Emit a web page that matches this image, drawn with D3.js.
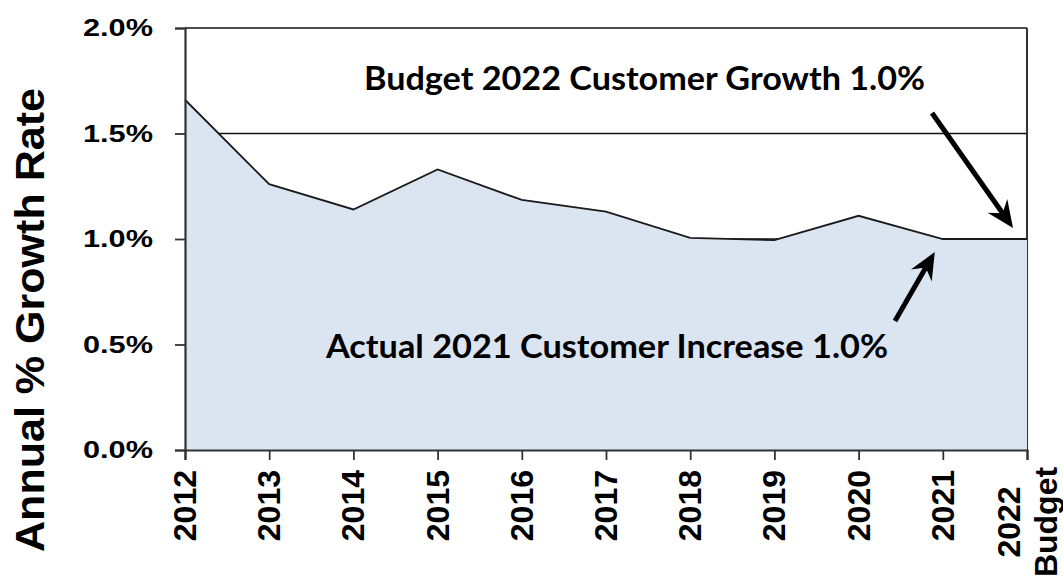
<!DOCTYPE html>
<html>
<head>
<meta charset="utf-8">
<script src="https://cdn.jsdelivr.net/npm/d3@7"></script>
<style>
  html, body { margin: 0; padding: 0; background: #ffffff; }
  svg { display: block; }
</style>
</head>
<body>
<svg id="chart" width="1063" height="579"></svg>
<script>
// Annual customer growth rate, in percent
const years = ["2012", "2013", "2014", "2015", "2016", "2017", "2018", "2019", "2020", "2021", "2022|Budget"];
const growth = [1.66, 1.26, 1.14, 1.33, 1.185, 1.13, 1.005, 0.995, 1.11, 1.0, 1.0];
const yTicks = [0, 0.5, 1.0, 1.5, 2.0];
const budgetNote = "Budget 2022 Customer Growth 1.0%";
const actualNote = "Actual 2021 Customer Increase 1.0%";
const yTitle = "Annual % Growth Rate";

const svg = d3.select("#chart");
const m = { left: 185, right: 1027, top: 28, bottom: 450 };

const x = d3.scalePoint().domain(years).range([m.left, m.right]);
const y = d3.scaleLinear().domain([0, 2]).range([m.bottom, m.top]);

const pts = years.map((k, i) => ({ k, v: growth[i] }));

// horizontal gridlines (drawn under the area)
svg.append("g").selectAll("line").data(yTicks.filter(t => t > 0)).join("line")
  .attr("x1", m.left).attr("x2", m.right)
  .attr("y1", d => y(d)).attr("y2", d => y(d))
  .attr("stroke", "#111").attr("stroke-width", 1.4);

// right frame edge
svg.append("line")
  .attr("x1", m.right).attr("x2", m.right).attr("y1", m.top).attr("y2", m.bottom)
  .attr("stroke", "#333").attr("stroke-width", 2);

// filled area
svg.append("path").datum(pts)
  .attr("d", d3.area().x(d => x(d.k)).y0(y(0)).y1(d => y(d.v)))
  .attr("fill", "#dbe4f1");

// series outline
svg.append("path").datum(pts)
  .attr("d", d3.line().x(d => x(d.k)).y(d => y(d.v)))
  .attr("fill", "none").attr("stroke", "#1a1a1a").attr("stroke-width", 1.8);

// y axis
const yAxis = svg.append("g").attr("transform", `translate(${m.left},0)`)
  .call(d3.axisLeft(y).tickValues(yTicks).tickSize(10).tickPadding(22)
    .tickFormat(d => d.toFixed(1) + "%"));
yAxis.select(".domain").attr("stroke", "#333").attr("stroke-width", 2.2);
yAxis.selectAll(".tick line").attr("stroke", "#333").attr("stroke-width", 1.8);
yAxis.selectAll(".tick text")
  .attr("fill", "#000")
  .style("font-family", "'Liberation Sans', Arial, sans-serif")
  .style("font-weight", "bold").style("font-size", "24px")
  .attr("textLength", 70).attr("lengthAdjust", "spacingAndGlyphs");

// x axis
const xAxis = svg.append("g").attr("transform", `translate(0,${m.bottom})`)
  .call(d3.axisBottom(x).tickSize(10).tickFormat(""));
xAxis.select(".domain").attr("stroke", "#333").attr("stroke-width", 2.2);
xAxis.selectAll(".tick line").attr("stroke", "#333").attr("stroke-width", 1.8);

// rotated category labels
const xl = svg.append("g")
  .style("font-family", "'Liberation Sans', Arial, sans-serif")
  .style("font-weight", "bold").style("font-size", "32px").attr("fill", "#000");
years.forEach(k => {
  const lines = k.split("|");
  const cx = x(k);
  if (lines.length === 1) {
    xl.append("text")
      .attr("transform", `translate(${cx + 11},470) rotate(-90)`)
      .attr("text-anchor", "end")
      .text(lines[0]);
  } else {
    const mid = 522;
    const gap = 37;
    lines.forEach((t, j) => {
      xl.append("text")
        .attr("transform", `translate(${cx - 7 + j * gap},${mid}) rotate(-90)`)
        .attr("text-anchor", "middle")
        .text(t);
    });
  }
});

// y axis title
svg.append("text")
  .attr("transform", "translate(44,320) rotate(-90)")
  .attr("text-anchor", "middle")
  .style("font-family", "'Liberation Sans', Arial, sans-serif")
  .style("font-weight", "bold").style("font-size", "41px")
  .attr("textLength", 464).attr("lengthAdjust", "spacingAndGlyphs")
  .attr("fill", "#000")
  .text(yTitle);

// annotations
const noteStyle = sel => sel
  .style("font-family", "Lato, 'Open Sans', sans-serif")
  .style("font-weight", "bold").style("font-size", "32px")
  .attr("fill", "#000").attr("lengthAdjust", "spacingAndGlyphs");

svg.append("text").attr("x", 364).attr("y", 90)
  .attr("textLength", 561).call(noteStyle).text(budgetNote);
svg.append("text").attr("x", 326).attr("y", 358)
  .attr("textLength", 562).call(noteStyle).text(actualNote);

// arrows pointing at the budget and 2021 points
const budgetKey = years[years.length - 1];
const actualKey = years[years.length - 2];
function arrow(x0, y0, x1, y1) {
  const ang = Math.atan2(y1 - y0, x1 - x0);
  const len = 27, half = 12, notch = 9;
  const bx = x1 - len * Math.cos(ang), by = y1 - len * Math.sin(ang);
  const nx = x1 - (len - notch) * Math.cos(ang), ny = y1 - (len - notch) * Math.sin(ang);
  const px = -Math.sin(ang), py = Math.cos(ang);
  svg.append("line")
    .attr("x1", x0).attr("y1", y0).attr("x2", nx).attr("y2", ny)
    .attr("stroke", "#000").attr("stroke-width", 5);
  svg.append("path")
    .attr("d", `M${x1},${y1} L${bx + px * half},${by + py * half} L${nx},${ny} L${bx - px * half},${by - py * half} Z`)
    .attr("fill", "#000");
}
arrow(932, 113, x(budgetKey) - 14, y(growth[growth.length - 1]) - 11);
arrow(895, 321, x(actualKey) - 8, y(growth[growth.length - 2]) + 13);
</script>
</body>
</html>
